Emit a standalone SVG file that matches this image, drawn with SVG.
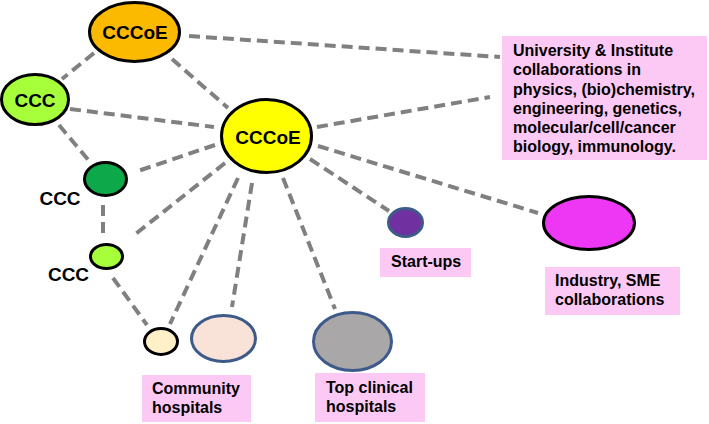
<svg xmlns="http://www.w3.org/2000/svg" width="709" height="424" viewBox="0 0 709 424">
<style>
.c{stroke:#808080;stroke-width:4;stroke-dasharray:11 6;fill:none}
.bk{stroke:#000;stroke-width:3}
.bl{stroke:#3d5a8a;stroke-width:3}
.t{font-family:"Liberation Sans",Arial,sans-serif;font-weight:bold;fill:#000}
.n{font-size:19px;text-anchor:middle}
.l{font-size:16px}
.box{fill:#fcc9f5}
</style>
<rect width="709" height="424" fill="#fff"/>
<g id="connectors">
<line class="c" x1="189" y1="36" x2="500" y2="57"/>
<line class="c" x1="317" y1="127" x2="490" y2="97"/>
<line class="c" x1="94" y1="53" x2="62" y2="79"/>
<line class="c" x1="172" y1="59" x2="228" y2="108"/>
<line class="c" x1="70" y1="109" x2="214" y2="127"/>
<line class="c" x1="59" y1="125" x2="90" y2="162"/>
<line class="c" x1="215" y1="145" x2="135" y2="172"/>
<line class="c" x1="103" y1="205" x2="103" y2="236"/>
<line class="c" x1="225" y1="163" x2="133" y2="236"/>
<line class="c" x1="113" y1="278" x2="147" y2="325"/>
<line class="c" x1="238" y1="178" x2="170" y2="324"/>
<line class="c" x1="252" y1="183" x2="232" y2="307"/>
<line class="c" x1="283" y1="178" x2="335" y2="309"/>
<line class="c" x1="310" y1="159" x2="389" y2="211"/>
<line class="c" x1="318" y1="146" x2="538" y2="213"/>
</g>
<g id="cccoe-top">
<ellipse cx="134.5" cy="32" rx="45" ry="29.5" fill="#fbb900" class="bk"/>
<text class="t n" x="135" y="39">CCCoE</text>
</g>
<g id="ccc-left">
<ellipse cx="35" cy="99.5" rx="33.5" ry="25" fill="#a6ff3a" class="bk"/>
<text class="t n" x="35" y="107">CCC</text>
</g>
<g id="cccoe-main">
<ellipse cx="266.5" cy="136" rx="45" ry="36.5" fill="#ffff00" class="bk"/>
<text class="t n" x="268" y="144">CCCoE</text>
</g>
<g id="ccc-dark">
<ellipse cx="105.5" cy="179" rx="21" ry="16.5" fill="#0ca84a" class="bk"/>
<text class="t n" x="60" y="205">CCC</text>
</g>
<g id="ccc-small">
<ellipse cx="106.5" cy="256.5" rx="16" ry="12" fill="#a6ff3a" class="bk"/>
<text class="t n" x="68.5" y="281">CCC</text>
</g>
<g id="community">
<ellipse cx="161" cy="341.5" rx="16.5" ry="13" fill="#fff0c8" class="bk"/>
<ellipse cx="223.5" cy="338.5" rx="32" ry="23" fill="#f9e2d8" class="bl"/>
<rect class="box" x="142" y="375" width="109" height="47"/>
<text class="t l" x="152" y="394">Community</text>
<text class="t l" x="152" y="413">hospitals</text>
</g>
<g id="top-clinical">
<ellipse cx="352.5" cy="341.5" rx="39" ry="29" fill="#a9a7a8" class="bl"/>
<rect class="box" x="315" y="373" width="110" height="49"/>
<text class="t l" x="326" y="393">Top clinical</text>
<text class="t l" x="326" y="412">hospitals</text>
</g>
<g id="startups">
<ellipse cx="405.5" cy="222.5" rx="17" ry="14" fill="#7030a0" class="bl"/>
<rect class="box" x="380" y="248" width="91" height="29"/>
<text class="t l" x="391" y="267">Start-ups</text>
</g>
<g id="industry">
<ellipse cx="589" cy="223" rx="45.5" ry="26.5" fill="#ee36f5" class="bk"/>
<rect class="box" x="545" y="267" width="135" height="48"/>
<text class="t l" x="555" y="286">Industry, SME</text>
<text class="t l" x="555" y="305">collaborations</text>
</g>
<g id="university">
<rect class="box" x="502" y="36" width="205" height="124"/>
<text class="t l" x="513" y="56">University &amp; Institute</text>
<text class="t l" x="513" y="75">collaborations in</text>
<text class="t l" x="513" y="95">physics, (bio)chemistry,</text>
<text class="t l" x="513" y="114">engineering, genetics,</text>
<text class="t l" x="513" y="133">molecular/cell/cancer</text>
<text class="t l" x="513" y="152">biology, immunology.</text>
</g>
</svg>
